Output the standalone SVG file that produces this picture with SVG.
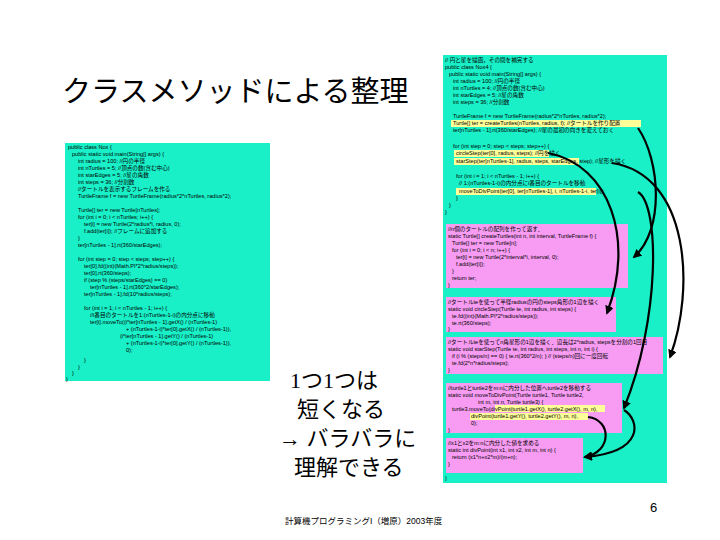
<svg xmlns="http://www.w3.org/2000/svg" width="720" height="540" viewBox="0 0 720 540">
<defs>
<style>
.c{font-family:"Liberation Sans","Noto Sans CJK JP",sans-serif;font-size:5.6px;fill:#000}
.box{fill:#19f0c8}
.pk{fill:#f79cf2}
.hl{fill:#ffff99}
.ar{fill:none;stroke:#000;stroke-width:2.2}
</style>
<marker id="m" viewBox="0 0 10 10" refX="8" refY="5" markerWidth="4" markerHeight="4" orient="auto"><path d="M0,0L10,5L0,10z" fill="#000"/></marker>
</defs>
<rect width="720" height="540" fill="#fff"/>
<text x="62" y="102" font-family="Liberation Sans,Noto Sans CJK JP,sans-serif" font-size="29">クラスメソッドによる整理</text>
<g id="left">
<rect class="box" x="65" y="143" width="205" height="238"/>
<text class="c" x="68" y="149">public class Nox {</text>
<text class="c" x="72" y="156">public static void main(String[] args) {</text>
<text class="c" x="78" y="163">int radius = 100;        //円の半径</text>
<text class="c" x="78" y="170">int nTurtles = 5;        //頂点の数(含む中心)</text>
<text class="c" x="78" y="177">int starEdges = 5;        //星の角数</text>
<text class="c" x="78" y="184">int steps = 36;           //分割数</text>
<text class="c" x="78" y="191">//タートルを表示するフレームを作る</text>
<text class="c" x="78" y="198">TurtleFrame f = new TurtleFrame(radius*2*nTurtles, radius*2);</text>
<text class="c" x="78" y="212">Turtle[] ter = new Turtle[nTurtles];</text>
<text class="c" x="78" y="219">for (int i = 0; i &lt; nTurtles; i++) {</text>
<text class="c" x="84" y="226">ter[i] = new Turtle(2*radius*i, radius, 0);</text>
<text class="c" x="84" y="233">f.add(ter[i]);                        //フレームに追加する</text>
<text class="c" x="78" y="240">}</text>
<text class="c" x="78" y="247">ter[nTurtles - 1].rt(360/starEdges);</text>
<text class="c" x="78" y="261">for (int step = 0; step &lt; steps; step++) {</text>
<text class="c" x="84" y="268">ter[0].fd((int)(Math.PI*2*radius/steps));</text>
<text class="c" x="84" y="275">ter[0].rt(360/steps);</text>
<text class="c" x="84" y="282">if (step % (steps/starEdges) == 0)</text>
<text class="c" x="90" y="289">ter[nTurtles - 1].rt(360*2/starEdges);</text>
<text class="c" x="84" y="296">ter[nTurtles - 1].fd(10*radius/steps);</text>
<text class="c" x="84" y="310">for (int i = 1; i &lt; nTurtles - 1; i++) {</text>
<text class="c" x="90" y="317">//i番目のタートルを1:(nTurtles-1-i)の内分点に移動</text>
<text class="c" x="90" y="324">ter[i].moveTo((i*ter[nTurtles - 1].getX() / (nTurtles-1)</text>
<text class="c" x="126" y="331">+ (nTurtles-1-i)*ter[0].getX() / (nTurtles-1)),</text>
<text class="c" x="120" y="338">(i*ter[nTurtles - 1].getY() / (nTurtles-1)</text>
<text class="c" x="126" y="345">+ (nTurtles-1-i)*ter[0].getY() / (nTurtles-1)),</text>
<text class="c" x="126" y="352">0);</text>
<text class="c" x="84" y="362">}</text>
<text class="c" x="78" y="369">}</text>
<text class="c" x="72" y="375">}</text>
<text class="c" x="66" y="381">}</text>
</g>
<g id="right">
<rect class="box" x="443" y="55" width="224" height="428"/>
<rect class="hl" x="451" y="120" width="190" height="7"/>
<rect class="hl" x="454" y="150" width="95" height="7"/>
<rect class="hl" x="454" y="158" width="125" height="7"/>
<rect class="hl" x="456" y="188" width="140" height="7"/>
<rect class="pk" x="446" y="224" width="182" height="64"/>
<rect class="pk" x="446" y="297" width="170" height="35"/>
<rect class="pk" x="446" y="337" width="217" height="37"/>
<rect class="pk" x="446" y="383" width="176" height="50"/>
<rect class="pk" x="446" y="438" width="137" height="35"/>
<rect class="hl" x="495" y="405" width="110" height="7"/>
<rect class="hl" x="470" y="413" width="118" height="7"/>
<text class="c" x="445" y="62">// 円と星を描画，その間を補完する</text>
<text class="c" x="445" y="69">public class Nox4 {</text>
<text class="c" x="449" y="76">public static void main(String[] args) {</text>
<text class="c" x="453" y="83">int radius = 100;     //円の半径</text>
<text class="c" x="453" y="90">int nTurtles = 4;     //頂点の数(含む中心)</text>
<text class="c" x="453" y="97">int starEdges = 5;    //星の角数</text>
<text class="c" x="453" y="104">int steps = 36;       //分割数</text>
<text class="c" x="453" y="118">TurtleFrame f = new TurtleFrame(radius*2*nTurtles, radius*2);</text>
<text class="c" x="453" y="125">Turtle[] ter = createTurtles(nTurtles, radius, f); //タートルを作り配置</text>
<text class="c" x="453" y="132">ter[nTurtles - 1].rt(360/starEdges);  //星の最初の向きを変えておく</text>
<text class="c" x="453" y="148">for (int step = 0; step &lt; steps; step++) {</text>
<text class="c" x="456" y="155">circleStep(ter[0], radius, steps);               //円を描く</text>
<text class="c" x="456" y="163">starStep(ter[nTurtles-1], radius, steps, starEdges, step);  //星形を描く</text>
<text class="c" x="456" y="178">for (int i = 1; i &lt; nTurtles - 1; i++) {</text>
<text class="c" x="459" y="185">// 1:(nTurtles-1-i)の内分点にi番目のタートルを移動</text>
<text class="c" x="459" y="193">moveToDivPoint(ter[0], ter[nTurtles-1], i, nTurtles-1-i, ter[i]);</text>
<text class="c" x="456" y="200">}</text>
<text class="c" x="449" y="207">}</text>
<text class="c" x="445" y="214">}</text>
<text class="c" x="448" y="231">//n個のタートルの配列を作って返す．</text>
<text class="c" x="448" y="238">static Turtle[] createTurtles(int n, int interval, TurtleFrame f) {</text>
<text class="c" x="452" y="245">Turtle[] ter = new Turtle[n];</text>
<text class="c" x="452" y="252">for (int i = 0; i &lt; n; i++) {</text>
<text class="c" x="456" y="259">ter[i] = new Turtle(2*interval*i, interval, 0);</text>
<text class="c" x="456" y="266">f.add(ter[i]);</text>
<text class="c" x="452" y="273">}</text>
<text class="c" x="452" y="280">return ter;</text>
<text class="c" x="448" y="287">}</text>
<text class="c" x="448" y="304">//タートルteを使って半径radiusの円のsteps角形の1辺を描く</text>
<text class="c" x="448" y="311">static void circleStep(Turtle te, int radius, int steps) {</text>
<text class="c" x="452" y="318">te.fd((int)(Math.PI*2*radius/steps));</text>
<text class="c" x="452" y="325">te.rt(360/steps);</text>
<text class="c" x="448" y="331">}</text>
<text class="c" x="448" y="344">//タートルteを使ってn角星形の1辺を描く．辺長は2*radius, stepsを分割の1回目</text>
<text class="c" x="448" y="351">static void starStep(Turtle te, int radius, int steps, int n, int i) {</text>
<text class="c" x="452" y="358">if (i % (steps/n) == 0) { te.rt(360*2/n); } // (steps/n)回に一度回転</text>
<text class="c" x="452" y="365">te.fd(2*n*radius/steps);</text>
<text class="c" x="448" y="372">}</text>
<text class="c" x="448" y="390">//turtle1とturtle2をm:nに内分した位置へturtle2を移動する</text>
<text class="c" x="448" y="397">static void moveToDivPoint(Turtle turtle1, Turtle turtle2,</text>
<text class="c" x="478" y="404">int m, int n, Turtle turtle3) {</text>
<text class="c" x="452" y="411">turtle3.moveTo(divPoint(turtle1.getX(), turtle2.getX(), m, n),</text>
<text class="c" x="471" y="418">divPoint(turtle1.getY(), turtle2.getY(), m, n),</text>
<text class="c" x="471" y="425">0);</text>
<text class="c" x="448" y="432">}</text>
<text class="c" x="448" y="445">//x1とx2をm:nに内分した値を求める</text>
<text class="c" x="448" y="452">static int divPoint(int x1, int x2, int m, int n) {</text>
<text class="c" x="452" y="459">return (x1*n+x2*m)/(m+n);</text>
<text class="c" x="448" y="466">}</text>
<text class="c" x="445" y="480">}</text>
</g>
<g id="connectors">
<path class="ar" marker-end="url(#m)" d="M638,128 C660,160 665,230 634,257"/>
<path class="ar" marker-end="url(#m)" d="M548,153 C610,165 635,240 607,313"/>
<path class="ar" marker-end="url(#m)" d="M612,163 C690,175 695,290 670,357"/>
<path class="ar" marker-end="url(#m)" d="M638,192 C660,205 660,320 624,408"/>
<path class="ar" marker-end="url(#m)" d="M624,410 C640,420 645,452 585,457"/>
<path class="ar" marker-end="url(#m)" d="M588,417 C612,420 612,452 585,457"/>
</g>
<g id="note" font-family="Liberation Serif,Noto Sans CJK JP,serif" font-size="22">
<text x="290" y="388">1つ1つは</text>
<text x="297" y="417">短くなる</text>
<text x="279" y="446">→ バラバラに</text>
<text x="294" y="475">理解できる</text>
</g>
<text x="650" y="512" font-family="Liberation Sans,sans-serif" font-size="13">6</text>
<text x="285" y="524" font-family="Liberation Sans,Noto Sans CJK JP,sans-serif" font-size="8.5">計算機プログラミングI（増原）2003年度</text>
</svg>
